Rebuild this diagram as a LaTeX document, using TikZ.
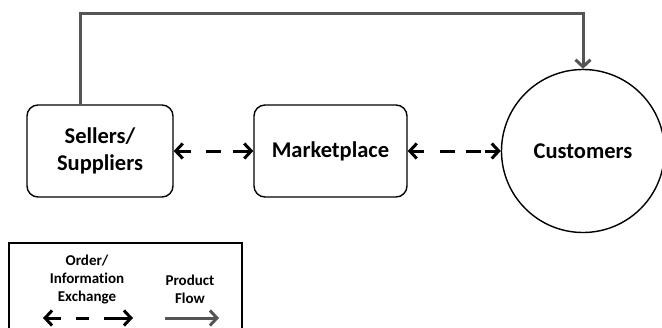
\documentclass[tikz,border=0pt]{standalone}
\usepackage{fontspec}
\setmainfont{Carlito}[Ligatures=NoCommon]
\usetikzlibrary{arrows.meta}
\definecolor{flowgray}{RGB}{85,85,85}
\tikzset{
  box/.style={draw=black, line width=1.4pt, rounded corners=11pt, minimum height=92pt, align=center, font=\fontsize{22.5}{27}\selectfont\bfseries, inner sep=0pt},
  infoarrow/.style={line width=3pt, black, {Straight Barb[length=7pt,width=15pt]}-{Straight Barb[length=7pt,width=15pt]}},
  flowarrow/.style={line width=3pt, flowgray, -{Straight Barb[length=7pt,width=15pt]}},
  legtext/.style={align=center, font=\fontsize{15}{18}\selectfont\bfseries, inner sep=0pt}
}
\begin{document}
\begin{tikzpicture}[x=1pt,y=-1pt]
\useasboundingbox (0,0) rectangle (662,327);
\clip (0,0) rectangle (662,327);
\node[box, minimum width=146pt] (sell) at (100,151) {Sellers/\\Suppliers};
\node[box, minimum width=153pt] (mkt) at (330.5,151) {Marketplace};
\node[draw=black, line width=1.4pt, circle, minimum size=163pt, inner sep=0pt, font=\fontsize{22.5}{27}\selectfont\bfseries] (cust) at (583,151) {Customers};
\draw[infoarrow, dash pattern=on 14pt off 15pt on 15pt off 12pt on 60pt off 0pt] (sell.east) -- (mkt.west);
\draw[infoarrow, dash pattern=on 13pt off 16pt on 15pt off 11pt on 15pt off 4pt on 60pt off 0pt] (mkt.east) -- (cust.west);
\coordinate (corner1) at (80,13);
\coordinate (corner2) at (583,13);
\draw[flowarrow, line join=miter] (sell.north -| corner1) -- (corner1) -- (corner2) -- (cust.north);
% legend
\node[draw=black, line width=1.4pt, minimum width=233pt, minimum height=110pt, inner sep=0pt] (legend) at (125.5,298) {};
\node[legtext] (ordtxt) at (87,280) {Order/\\Information\\Exchange};
\node[legtext] (prodtxt) at (190,289) {Product\\Flow};
\coordinate (la) at (43,318);
\coordinate (lb) at (133,318);
\coordinate (lc) at (165,318);
\coordinate (ld) at (219,318);
\draw[infoarrow, dash pattern=on 14pt off 15pt on 13pt off 15pt on 60pt off 0pt] (la) -- (lb);
\draw[flowarrow] (lc) -- (ld);
\end{tikzpicture}
\end{document}
